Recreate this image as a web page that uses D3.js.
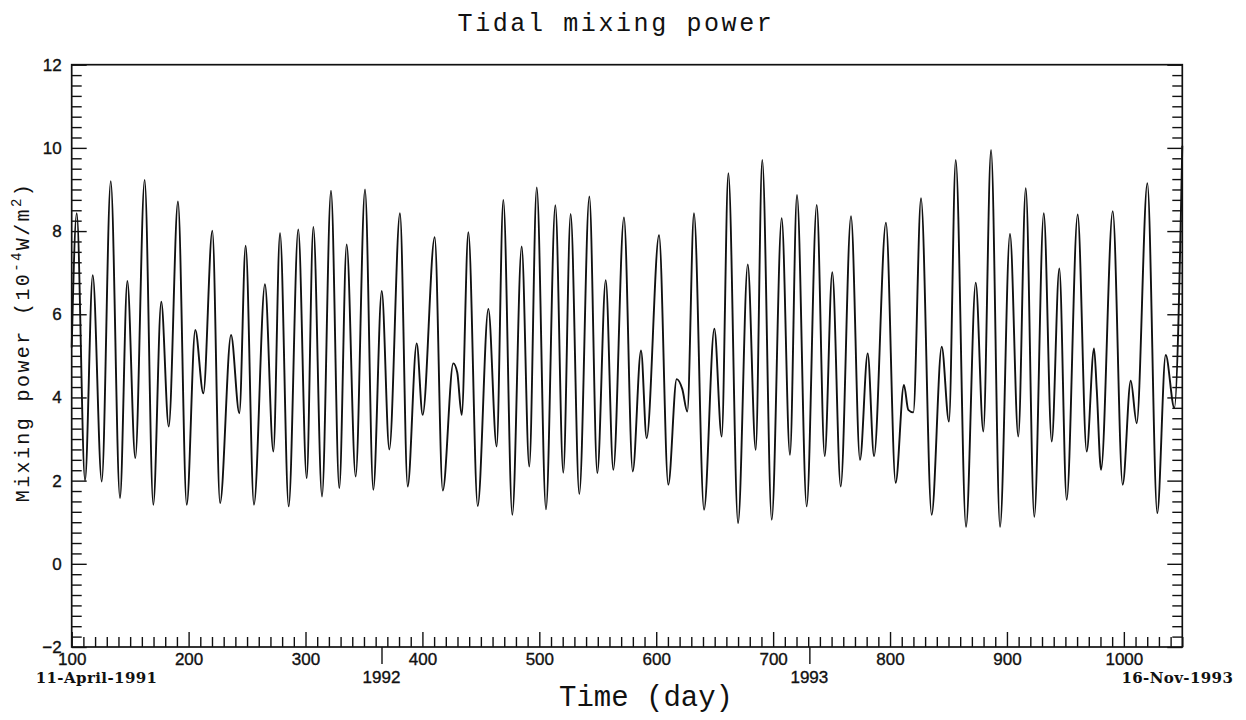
<!DOCTYPE html>
<html>
<head>
<meta charset="utf-8">
<script src="https://cdn.jsdelivr.net/npm/d3@7"></script>
<style>
  html, body { margin: 0; padding: 0; background: #fff; }
  svg { display: block; }
  .num { font-family: "Liberation Sans", Arial, sans-serif; font-size: 17px; fill: #111; stroke: #111; stroke-width: 0.35px; }
  .date { font-family: "DejaVu Serif", serif; font-weight: bold; font-size: 15px; letter-spacing: 0.4px; fill: #111; }
  .mono { font-family: "Liberation Mono", "DejaVu Sans Mono", monospace; fill: #111; }
</style>
</head>
<body>
<svg id="chart" width="1246" height="720"></svg>
<script>
// extrema of the mixing power curve (day, 1e-4 W/m^2)
const days = [
  100.0, 104.3, 111.4, 118.0, 125.7, 133.4, 141.3, 147.6, 154.4, 162.4,
  169.8, 176.6, 183.0, 190.9, 198.4, 205.7, 212.6, 220.3, 226.9, 236.3,
  243.4, 248.8, 255.9, 265.3, 272.5, 278.2, 285.6, 293.8, 301.0, 306.7,
  314.1, 321.8, 328.9, 335.2, 342.9, 350.9, 358.0, 365.2, 371.7, 380.8,
  387.4, 395.1, 400.2, 410.5, 417.4, 426.4, 429.8, 433.6, 439.3, 447.3,
  456.4, 463.5, 469.2, 476.9, 484.9, 491.4, 497.8, 505.7, 513.7, 520.5,
  526.8, 534.2, 542.8, 549.6, 556.8, 563.3, 572.4, 579.9, 587.0, 591.8,
  602.4, 610.3, 617.5, 622.3, 626.6, 632.3, 640.9, 649.7, 656.0, 661.7,
  670.0, 678.3, 685.1, 690.7, 698.8, 707.3, 714.4, 720.4, 728.7, 737.3,
  744.1, 750.6, 757.8, 766.6, 774.3, 780.9, 786.3, 796.5, 804.8, 811.9,
  815.6, 819.9, 826.5, 835.6, 844.2, 850.4, 856.2, 865.0, 873.3, 879.8,
  886.4, 894.1, 902.6, 909.7, 916.1, 923.4, 931.5, 938.3, 944.8, 951.1,
  960.5, 968.2, 974.5, 976.8, 980.5, 990.5, 999.0, 1005.9, 1011.0, 1020.1,
  1028.6, 1035.8, 1043.2, 1050.0
];
const power = [
  5.2, 8.43, 2.0, 6.94, 1.98, 9.2, 1.58, 6.8, 2.54, 9.23,
  1.42, 6.3, 3.3, 8.71, 1.42, 5.62, 4.1, 8.01, 1.46, 5.5,
  3.62, 7.65, 1.42, 6.72, 2.7, 7.95, 1.38, 8.04, 2.06, 8.1,
  1.62, 8.97, 1.82, 7.68, 2.1, 9.0, 1.78, 6.56, 2.75, 8.43,
  1.86, 5.3, 3.58, 7.85, 1.76, 4.82, 4.6, 3.58, 7.97, 1.39,
  6.13, 2.82, 8.75, 1.18, 7.63, 2.34, 9.05, 1.31, 8.62, 2.19,
  8.41, 1.68, 8.83, 2.18, 6.82, 2.26, 8.33, 2.22, 5.13, 3.02,
  7.9, 1.9, 4.44, 4.2, 3.66, 8.43, 1.3, 5.65, 3.06, 9.39,
  0.98, 7.2, 2.74, 9.71, 1.06, 8.31, 2.62, 8.87, 1.38, 8.63,
  2.59, 7.01, 1.86, 8.36, 2.5, 5.06, 2.59, 8.2, 1.95, 4.3,
  3.7, 3.64, 8.79, 1.18, 5.22, 3.42, 9.71, 0.89, 6.76, 3.18,
  9.95, 0.89, 7.93, 3.06, 9.03, 1.13, 8.43, 2.94, 7.1, 1.54,
  8.4, 2.7, 5.18, 4.2, 2.26, 8.48, 1.9, 4.4, 3.38, 9.15,
  1.22, 5.02, 3.75, 10.05
];

const xMajor = [100, 200, 300, 400, 500, 600, 700, 800, 900, 1000];
const yMajor = [-2, 0, 2, 4, 6, 8, 10, 12];
const years = [365, 731];
const yearLabels = ["1992", "1993"];
const startLabel = "11-April-1991";
const endLabel = "16-Nov-1993";

const svg = d3.select("#chart");
const margin = {top: 64.7, right: 63.7, bottom: 73, left: 71.7};
const width = 1246 - margin.left - margin.right,
      height = 720 - margin.top - margin.bottom;

const x = d3.scaleLinear().domain([100, 1050]).range([0, width]);
const y = d3.scaleLinear().domain([-2, 12]).range([height, 0]);

const g = svg.append("g").attr("transform", "translate(" + margin.left + "," + margin.top + ")");

const xMinor = d3.range(100, 1051, 10).filter(d => d % 100 !== 0);
const yMinor = d3.range(-2, 12.01, 0.25).filter(d => d % 2 !== 0);

function styleAxis(sel) {
  sel.attr("font-size", null).attr("font-family", null);
  sel.select(".domain").remove();
  sel.selectAll("line").attr("stroke", "#111").attr("stroke-width", 1.4);
  sel.selectAll("text").attr("class", "num");
}

// minor + major ticks, all pointing inward
g.append("g").attr("transform", "translate(0," + height + ")")
  .call(d3.axisBottom(x).tickValues(xMinor).tickSize(-10).tickFormat(""))
  .call(styleAxis);
g.append("g").attr("transform", "translate(0," + height + ")")
  .call(d3.axisBottom(x).tickValues(xMajor).tickSize(-15).tickPadding(6).tickFormat(d3.format("d")))
  .call(styleAxis);

g.append("g")
  .call(d3.axisLeft(y).tickValues(yMinor).tickSize(-10).tickFormat(""))
  .call(styleAxis);
g.append("g")
  .call(d3.axisLeft(y).tickValues(yMajor).tickSize(-15).tickPadding(10).tickFormat(d => d < 0 ? "\u2212" + (-d) : d))
  .call(styleAxis);

g.append("g").attr("transform", "translate(" + width + ",0)")
  .call(d3.axisRight(y).tickValues(yMinor).tickSize(-10).tickFormat(""))
  .call(styleAxis);
g.append("g").attr("transform", "translate(" + width + ",0)")
  .call(d3.axisRight(y).tickValues(yMajor).tickSize(-15).tickFormat(""))
  .call(styleAxis);

// year markers below the axis
g.append("g").attr("transform", "translate(0," + height + ")")
  .call(d3.axisBottom(x).tickValues(years).tickSize(17).tickFormat(""))
  .call(styleAxis);
g.selectAll(".year").data(years).enter().append("text")
  .attr("class", "num")
  .attr("x", d => x(d)).attr("y", height + 36)
  .attr("text-anchor", "middle")
  .text((d, i) => yearLabels[i]);

g.append("text").attr("class", "date")
  .attr("x", -36).attr("y", height + 36)
  .text(startLabel);
g.append("text").attr("class", "date")
  .attr("x", width + 51).attr("y", height + 36)
  .attr("text-anchor", "end")
  .text(endLabel);

// frame
g.append("rect")
  .attr("width", width).attr("height", height)
  .attr("fill", "none").attr("stroke", "#111").attr("stroke-width", 1.7);

// the curve
const pts = days.map((d, i) => [d, power[i]]);
const line = d3.line()
  .x(d => x(d[0]))
  .y(d => y(d[1]))
  .curve(d3.curveMonotoneX);

g.append("path")
  .datum(pts)
  .attr("d", line)
  .attr("fill", "none")
  .attr("stroke", "#111")
  .attr("stroke-width", 1.9);

// titles
svg.append("text").attr("class", "mono")
  .attr("x", 616).attr("y", 31)
  .attr("text-anchor", "middle")
  .attr("font-size", 25).attr("letter-spacing", 2.6)
  .text("Tidal mixing power");

svg.append("text").attr("class", "mono")
  .attr("x", 646).attr("y", 706)
  .attr("text-anchor", "middle")
  .attr("font-size", 29)
  .text("Time (day)");

const yl = svg.append("text").attr("class", "mono")
  .attr("transform", "translate(29,342) rotate(-90)")
  .attr("text-anchor", "middle")
  .attr("font-size", 20).attr("letter-spacing", 2.4);
yl.append("tspan").text("Mixing power (10");
yl.append("tspan").attr("font-size", 14).attr("dy", -8).text("-4");
yl.append("tspan").attr("dy", 8).text("W/m");
yl.append("tspan").attr("font-size", 14).attr("dy", -8).text("2");
yl.append("tspan").attr("dy", 8).text(")");
</script>
</body>
</html>
